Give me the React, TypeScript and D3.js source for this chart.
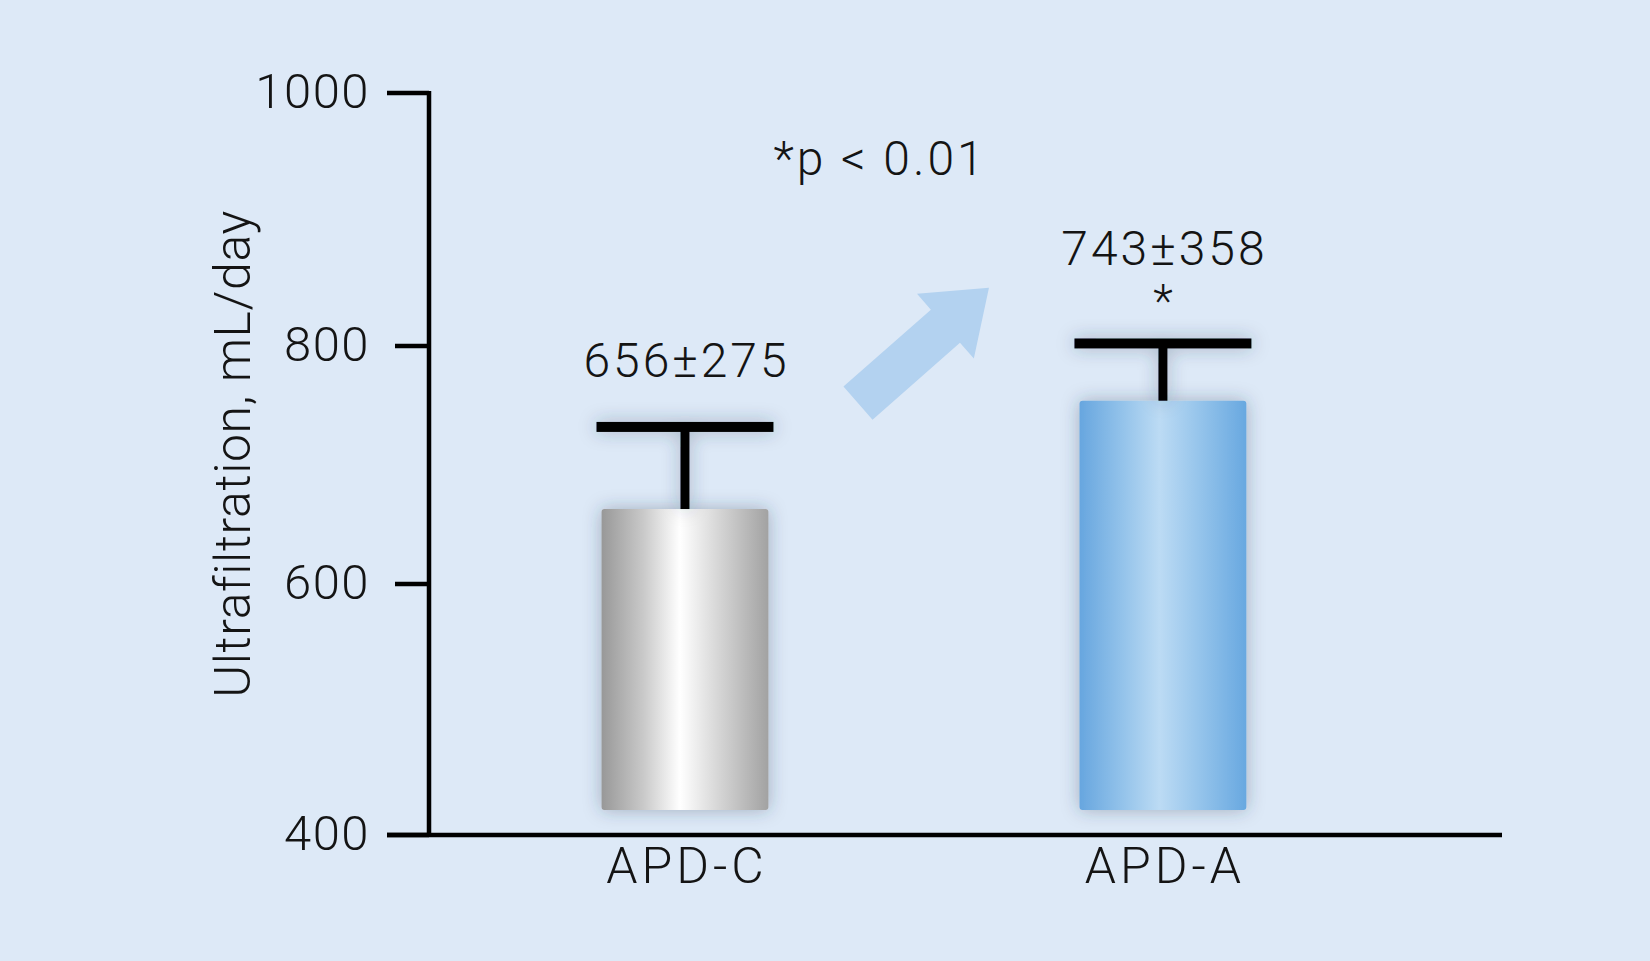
import { useEffect, useRef } from 'react';
import * as d3 from 'd3';

// Values
const categories = ['APD-C', 'APD-A'];
const means = [656, 743];
const sds = [275, 358];
const barTops = [663, 754]; // drawn bar heights
const errorTops = [732, 802]; // drawn error bar caps
const significant = [false, true];
const yTicks = [400, 600, 800, 1000];
// the printed axis is not evenly spaced
const yTickPixels = [835, 584, 346, 93];

const W = 1650;
const H = 961;
const BG = '#dde9f7';
const FONT = "'Helvetica Neue', Roboto, 'Liberation Sans', Arial, sans-serif";

export default function App() {
    const svgRef = useRef<SVGSVGElement>(null);

    useEffect(() => {
        if (!svgRef.current) return;
        const svg = d3.select(svgRef.current);
        svg.selectAll('*').remove();

        const axisX = 429;
        const axisRight = 1502;

        const y = d3.scaleLinear().domain(yTicks).range(yTickPixels);
        const x = d3
            .scaleBand()
            .domain(categories)
            .range([axisX, axisRight])
            .paddingInner(0.651)
            .paddingOuter(0.448)
            .align(0.403);
        const bw = x.bandwidth();
        const cx = (c: string) => (x(c) || 0) + bw / 2;
        const between = (f: number) =>
            cx(categories[0]) + f * (cx(categories[1]) - cx(categories[0]));

        const defs = svg.append('defs');

        const shadow = defs
            .append('filter')
            .attr('id', 'shadow')
            .attr('x', '-30%')
            .attr('y', '-30%')
            .attr('width', '160%')
            .attr('height', '160%');
        shadow
            .append('feDropShadow')
            .attr('dx', 0)
            .attr('dy', 0)
            .attr('stdDeviation', 9)
            .attr('flood-color', '#2a3a55')
            .attr('flood-opacity', 0.35);

        const gradStops = [
            [
                ['0%', '#989898'],
                ['25%', '#c9c9c9'],
                ['47%', '#ffffff'],
                ['70%', '#d6d6d6'],
                ['100%', '#a2a2a2'],
            ],
            [
                ['0%', '#67a6df'],
                ['25%', '#92c2ea'],
                ['48%', '#bcdbf4'],
                ['72%', '#95c4eb'],
                ['100%', '#68a8e0'],
            ],
        ];
        gradStops.forEach((stops, i) => {
            const g = defs
                .append('linearGradient')
                .attr('id', `barGrad${i}`)
                .attr('x1', '0%')
                .attr('x2', '100%')
                .attr('y1', '0%')
                .attr('y2', '0%');
            stops.forEach(([o, c]) =>
                g.append('stop').attr('offset', o).attr('stop-color', c)
            );
        });

        svg.append('rect').attr('width', W).attr('height', H).attr('fill', BG);

        // arrow between the bars
        const a0: [number, number] = [between(0.362), y(752)];
        const a1: [number, number] = [between(0.636), y(846)];
        const dx = a1[0] - a0[0];
        const dy = a1[1] - a0[1];
        const len = Math.hypot(dx, dy);
        const ux = dx / len;
        const uy = dy / len;
        const nx = -uy;
        const ny = ux;
        const shaftW = 44;
        const headW = 86;
        const headL = 58;
        const pt = (t: number, s: number): [number, number] => [
            a0[0] + ux * t + nx * s,
            a0[1] + uy * t + ny * s,
        ];
        const arrowPts = [
            pt(0, -shaftW / 2),
            pt(len - headL, -shaftW / 2),
            pt(len - headL, -headW / 2),
            pt(len, 0),
            pt(len - headL, headW / 2),
            pt(len - headL, shaftW / 2),
            pt(0, shaftW / 2),
        ];
        svg.append('path')
            .attr('d', d3.line()(arrowPts) + 'Z')
            .attr('fill', '#b3d2f0');

        // bars
        const floatGap = 25;
        const baseY = y(400) - floatGap;
        categories.forEach((c, i) => {
            svg.append('rect')
                .attr('x', x(c) || 0)
                .attr('y', y(barTops[i]))
                .attr('width', bw)
                .attr('height', baseY - y(barTops[i]))
                .attr('rx', 3)
                .attr('fill', `url(#barGrad${i})`)
                .attr('filter', 'url(#shadow)');
        });

        // error bars
        const capW = 177;
        const capT = 10;
        const stemW = 9;
        const err = svg.append('g').attr('filter', 'url(#shadow)');
        categories.forEach((c, i) => {
            err.append('rect')
                .attr('x', cx(c) - stemW / 2)
                .attr('y', y(errorTops[i]))
                .attr('width', stemW)
                .attr('height', y(barTops[i]) - y(errorTops[i]))
                .attr('fill', '#000');
            err.append('rect')
                .attr('x', cx(c) - capW / 2)
                .attr('y', y(errorTops[i]) - capT / 2)
                .attr('width', capW)
                .attr('height', capT)
                .attr('fill', '#000');
        });

        const label = (sel: d3.Selection<SVGTextElement, unknown, null, undefined>, size: number, spacing: number) =>
            sel
                .attr('font-family', FONT)
                .attr('font-weight', 300)
                .attr('font-size', size)
                .attr('letter-spacing', spacing)
                .attr('fill', '#141414');

        // value labels
        categories.forEach((c, i) => {
            const top = y(errorTops[i]);
            label(
                svg.append('text')
                    .attr('x', cx(c) + 1.5)
                    .attr('y', top - 50 - (significant[i] ? 28 : 0))
                    .attr('text-anchor', 'middle'),
                48,
                3
            ).text(`${means[i]}±${sds[i]}`);
            if (significant[i]) {
                label(
                    svg.append('text')
                        .attr('x', cx(c))
                        .attr('y', top - 26)
                        .attr('text-anchor', 'middle'),
                    46,
                    0
                ).text('*');
            }
        });

        label(
            svg.append('text')
                .attr('x', between(0.405) + 1.5)
                .attr('y', y(935))
                .attr('text-anchor', 'middle'),
            48,
            3
        ).text('*p < 0.01');

        // axes
        const axes = svg.append('g').attr('stroke', '#000').attr('stroke-width', 4.5);
        axes.append('line')
            .attr('x1', axisX)
            .attr('x2', axisX)
            .attr('y1', y(1000) - 2)
            .attr('y2', y(400));
        axes.append('line')
            .attr('x1', axisX - 42)
            .attr('x2', axisRight)
            .attr('y1', y(400))
            .attr('y2', y(400));
        yTicks.forEach((t) => {
            axes.append('line')
                .attr('x1', t === 600 || t === 800 ? axisX - 34 : axisX - 42)
                .attr('x2', axisX)
                .attr('y1', y(t))
                .attr('y2', y(t));
        });

        yTicks.forEach((t) => {
            label(
                svg.append('text')
                    .attr('x', 370)
                    .attr('y', y(t) + 15)
                    .attr('text-anchor', 'end'),
                49,
                1.5
            ).text(String(t));
        });

        categories.forEach((c) => {
            label(
                svg.append('text')
                    .attr('x', cx(c) + 2)
                    .attr('y', y(400) + 48)
                    .attr('text-anchor', 'middle'),
                50,
                4
            ).text(c);
        });

        label(
            svg.append('text')
                .attr('transform', `translate(250, ${(y(400) + y(1000)) / 2 - 10}) rotate(-90)`)
                .attr('text-anchor', 'middle'),
            50,
            0.6
        ).text('Ultrafiltration, mL/day');
    }, []);

    return (
        <svg
            ref={svgRef}
            width={W}
            height={H}
            style={{ position: 'absolute', left: 0, top: 0, display: 'block' }}
        />
    );
}
